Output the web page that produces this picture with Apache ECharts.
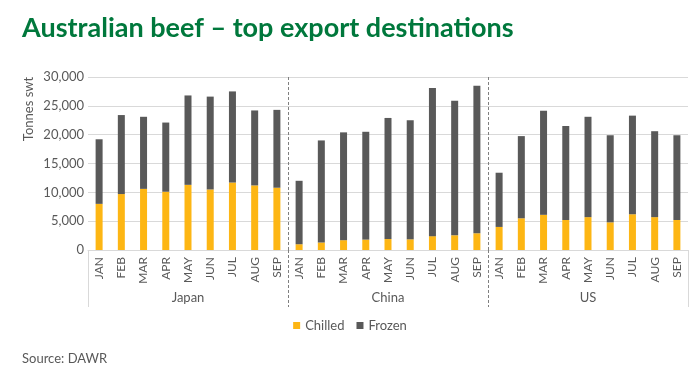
<!DOCTYPE html>
<html>
<head>
<meta charset="utf-8">
<script src="https://cdn.jsdelivr.net/npm/echarts@6/dist/echarts.min.js"></script>
<style>
html,body{margin:0;padding:0;background:#fff;}
#chart{width:700px;height:373px;}
</style>
</head>
<body>
<div id="chart"></div>
<script>
var months = ['JAN','FEB','MAR','APR','MAY','JUN','JUL','AUG','SEP'];
var groups = ['Japan','China','US'];
var yTicks = [0, 5000, 10000, 15000, 20000, 25000, 30000];

var chilledJapan = [8000, 9700, 10600, 10100, 11300, 10500, 11700, 11200, 10800];
var frozenJapan  = [11200, 13700, 12500, 12000, 15500, 16100, 15800, 13000, 13500];
var chilledChina = [1000, 1300, 1700, 1800, 1900, 1850, 2400, 2550, 2900];
var frozenChina  = [11000, 17700, 18700, 18700, 21000, 20650, 25700, 23350, 25600];
var chilledUS    = [4000, 5500, 6100, 5200, 5700, 4800, 6200, 5700, 5200];
var frozenUS     = [9400, 14250, 18050, 16300, 17400, 15100, 17100, 14900, 14700];

var catKeys = [];
groups.forEach(function (g) { months.forEach(function (m) { catKeys.push(g + '|' + m); }); });
var chilled = chilledJapan.concat(chilledChina, chilledUS);
var frozen = frozenJapan.concat(frozenChina, frozenUS);

var FONT = 'Lato';
var GREY = '#595959';
var LIGHT = '#d9d9d9';

var chart = echarts.init(document.getElementById('chart'), null, {renderer: 'canvas'});
chart.setOption({
  animation: false,
  textStyle: {fontFamily: FONT},
  title: [
    {text: 'Australian beef \u2013 top export destinations', left: 17, top: 10,
     textStyle: {fontFamily: FONT, fontSize: 27, fontWeight: 'bold', color: '#00783C'}},
    {text: 'Source: DAWR', left: 17, top: 347,
     textStyle: {fontFamily: FONT, fontSize: 13, fontWeight: 'normal', color: GREY}}
  ],
  legend: {
    data: ['Chilled', 'Frozen'], top: 314, left: 'center',
    icon: 'rect', itemWidth: 7, itemHeight: 7, itemGap: 12,
    textStyle: {fontFamily: FONT, fontSize: 13, color: GREY}
  },
  grid: [
    {left: 88, right: 12, top: 77, bottom: 123},
    {left: 288, width: 200, top: 77, bottom: 123}
  ],
  xAxis: [
    {type: 'category', gridIndex: 0, position: 'bottom', data: catKeys,
     axisLine: {lineStyle: {color: LIGHT}}, axisTick: {show: false},
     axisLabel: {interval: 0, rotate: 90, margin: 7, fontSize: 12, color: GREY, fontFamily: FONT,
       formatter: function (v) { return v.split('|')[1]; }}},
    {type: 'category', gridIndex: 0, position: 'bottom', data: groups,
     axisLine: {show: false},
     axisTick: {show: true, length: 57, interval: function (i) { return i === 0; },
       lineStyle: {color: LIGHT, width: 1}},
     axisLabel: {interval: 0, margin: 41, fontSize: 13, color: GREY, fontFamily: FONT},
     splitLine: {show: false}},
    {type: 'value', gridIndex: 1, position: 'bottom', min: 0, max: 1, interval: 1,
     axisLine: {show: false}, axisLabel: {show: false},
     axisTick: {show: true, length: 57, lineStyle: {color: '#7f7f7f', type: [3, 2], width: 1}},
     splitLine: {show: true, lineStyle: {color: '#7f7f7f', type: [3, 2], width: 1}}}
  ],
  yAxis: [
    {type: 'value', gridIndex: 0, min: yTicks[0], max: yTicks[yTicks.length - 1], interval: 5000,
     axisLine: {show: false}, axisTick: {show: false},
     axisLabel: {margin: 4, fontSize: 13, color: GREY, fontFamily: FONT,
       formatter: function (v) { return v.toLocaleString('en-US'); }},
     splitLine: {lineStyle: {color: LIGHT, width: 1}}},
    {type: 'value', gridIndex: 1, show: false, min: 0, max: 1}
  ],
  graphic: [
    {type: 'text', x: 29, y: 109, rotation: Math.PI / 2,
     style: {text: 'Tonnes swt', align: 'center', verticalAlign: 'middle',
       font: '13px ' + FONT, fill: GREY}}
  ],
  series: [
    {name: 'Chilled', type: 'bar', stack: 'total', xAxisIndex: 0, yAxisIndex: 0,
     barWidth: 7, itemStyle: {color: '#FDB614'}, data: chilled},
    {name: 'Frozen', type: 'bar', stack: 'total', xAxisIndex: 0, yAxisIndex: 0,
     barWidth: 7, itemStyle: {color: '#595959'}, data: frozen}
  ]
});
</script>
</body>
</html>
